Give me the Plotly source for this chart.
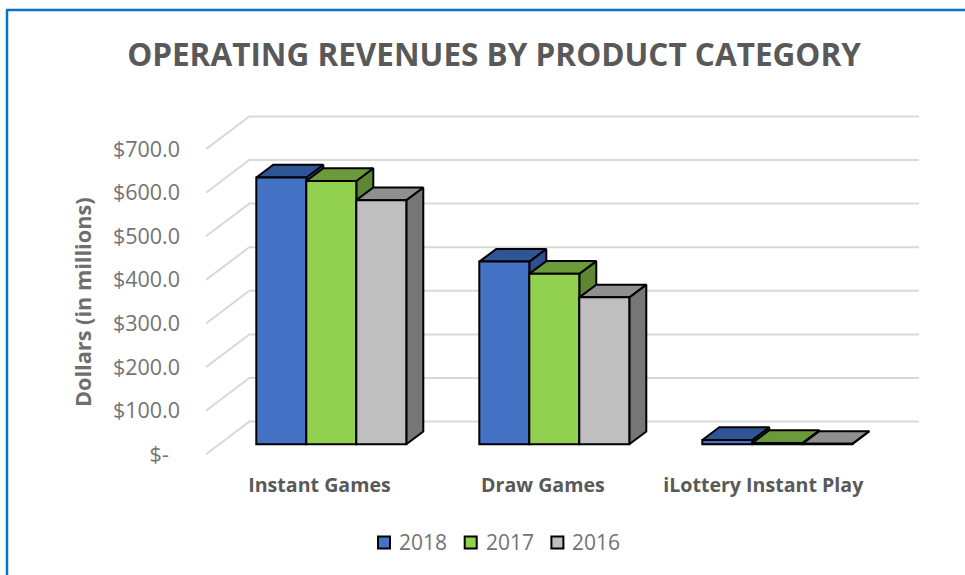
import plotly.graph_objects as go

# values in millions
categories = ["Instant Games", "Draw Games", "iLottery Instant Play"]
years = ["2018", "2017", "2016"]
revenue_2018 = [612, 419, 10]
revenue_2017 = [604, 391, 3]
revenue_2016 = [560, 337, 1]
tick_values = [0, 100, 200, 300, 400, 500, 600, 700]
tick_labels = ["$-\u00a0\u00a0", "$100.0", "$200.0", "$300.0", "$400.0", "$500.0", "$600.0", "$700.0"]

series = [revenue_2018, revenue_2017, revenue_2016]
front_colors = ["#4472C4", "#92D050", "#BFBFBF"]
top_colors = ["#2F5597", "#6B9A3A", "#8F8F8F"]
side_colors = ["#2F5090", "#5F8733", "#767676"]
title_color = "#595959"
text_color = "#737373"
edge = dict(color="#000000", width=2)

# the plot area in pixels, everything below is worked out from it
width, height = 965, 575
left, right, top, bottom = 190, 930, 100, 470
baseline_px = 444.3
px_per_dollar = 0.436
px_per_cat = 223
first_center_px = 331.3


def data_x(px):
    return (px - first_center_px) / px_per_cat


def data_y(px):
    return (baseline_px - px) / px_per_dollar


def paper_x(px):
    return (px - left) / (right - left)


def paper_y(px):
    return (bottom - px) / (bottom - top)


x_range = [data_x(left), data_x(right)]
y_range = [data_y(bottom), data_y(top)]

bar_w = 50 / px_per_cat
depth_x = 17 / px_per_cat
depth_y = 12.7 / px_per_dollar

# oblique floor lines of the wall
wall_front_drop = 10 / px_per_dollar
wall_rise = 32.7 / px_per_dollar

fig = go.Figure()

grid_x, grid_y = [], []
for v in tick_values:
    y0 = v - wall_front_drop
    grid_x += [data_x(206), data_x(249.3), data_x(919), None]
    grid_y += [y0, y0 + wall_rise, y0 + wall_rise, None]
fig.add_trace(go.Scatter(x=grid_x, y=grid_y, mode="lines", showlegend=False, hoverinfo="skip",
                         line=dict(color="#D9D9D9", width=2)))

# side and top faces go under the fronts, left to right
for i, vals in enumerate(series):
    for c, v in enumerate(vals):
        x0 = c + (i - 1.5) * bar_w
        x1 = x0 + bar_w
        fig.add_trace(go.Scatter(
            x=[x1, x1 + depth_x, x1 + depth_x, x1, x1],
            y=[0, depth_y, v + depth_y, v, 0],
            mode="lines", fill="toself", fillcolor=side_colors[i], showlegend=False, hoverinfo="skip",
            line=edge))
        fig.add_trace(go.Scatter(
            x=[x0, x0 + depth_x, x1 + depth_x, x1, x0],
            y=[v, v + depth_y, v + depth_y, v, v],
            mode="lines", fill="toself", fillcolor=top_colors[i], showlegend=False, hoverinfo="skip",
            line=edge))

# fronts sit on an overlaying subplot so they cover the faces of the bar to their left
for i, vals in enumerate(series):
    fig.add_trace(go.Bar(x=list(range(len(categories))), y=vals, name=years[i], xaxis="x2", yaxis="y2",
                         showlegend=False, marker=dict(color=front_colors[i], line=edge)))

notes = [dict(text="Dollars (in millions)", textangle=-90, xref="paper", yref="paper",
              x=paper_x(82), y=paper_y(302), xanchor="center", yanchor="middle", showarrow=False,
              font=dict(size=21.7, weight=700, color="#6E6E6E"))]
boxes = [
    dict(type="line", xref="paper", yref="paper", line=dict(color="#0A72C8", width=2.5),
         x0=paper_x(7), x1=paper_x(7), y0=paper_y(10), y1=paper_y(575)),
    dict(type="line", xref="paper", yref="paper", line=dict(color="#0A72C8", width=2.5),
         x0=paper_x(6), x1=paper_x(965), y0=paper_y(10), y1=paper_y(10)),
]

# legend by hand, the built in one keeps its text too far from the squares
for i, year in enumerate(years):
    key_px = 384 + 86.7 * i
    boxes.append(dict(type="rect", xref="paper", yref="paper", fillcolor=front_colors[i], line=edge,
                      x0=paper_x(key_px - 6), x1=paper_x(key_px + 6),
                      y0=paper_y(548.5), y1=paper_y(536.5)))
    notes.append(dict(text=year, xref="paper", yref="paper", x=paper_x(key_px + 13), y=paper_y(542),
                      xanchor="left", yanchor="middle", showarrow=False,
                      font=dict(size=21, color=text_color)))

fig.update_layout(
    width=width, height=height, autosize=False,
    margin=dict(l=left, r=width - right, t=top, b=height - bottom),
    paper_bgcolor="white", plot_bgcolor="rgba(0,0,0,0)",
    barmode="group", bargap=1 - 3 * bar_w, bargroupgap=0,
    showlegend=False,
    font=dict(family="Open Sans", color=text_color),
    title=dict(text="OPERATING REVENUES BY PRODUCT CATEGORY", x=494 / width, xanchor="center",
               y=1 - 55 / height, yanchor="middle",
               font=dict(size=31.5, weight=700, color=title_color)),
    xaxis=dict(range=x_range, showgrid=False, zeroline=False, showline=False, ticks="",
               tickvals=[-0.053, 0.949, 1.937], ticktext=categories, ticklabelstandoff=1,
               tickfont=dict(size=19.6, weight=700, color=title_color)),
    yaxis=dict(range=y_range, showgrid=False, zeroline=False, showline=False, ticks="",
               tickvals=[v - wall_front_drop for v in tick_values], ticktext=tick_labels,
               ticklabelstandoff=9, tickfont=dict(size=21.5, color=text_color)),
    xaxis2=dict(range=x_range, overlaying="x", visible=False),
    yaxis2=dict(range=y_range, overlaying="y", visible=False),
    annotations=notes,
    shapes=boxes,
)

# the page has a default body margin that would push the chart off its place
fig.write_html("out.html", config=dict(displayModeBar=False), post_script="document.body.style.margin='0';")
